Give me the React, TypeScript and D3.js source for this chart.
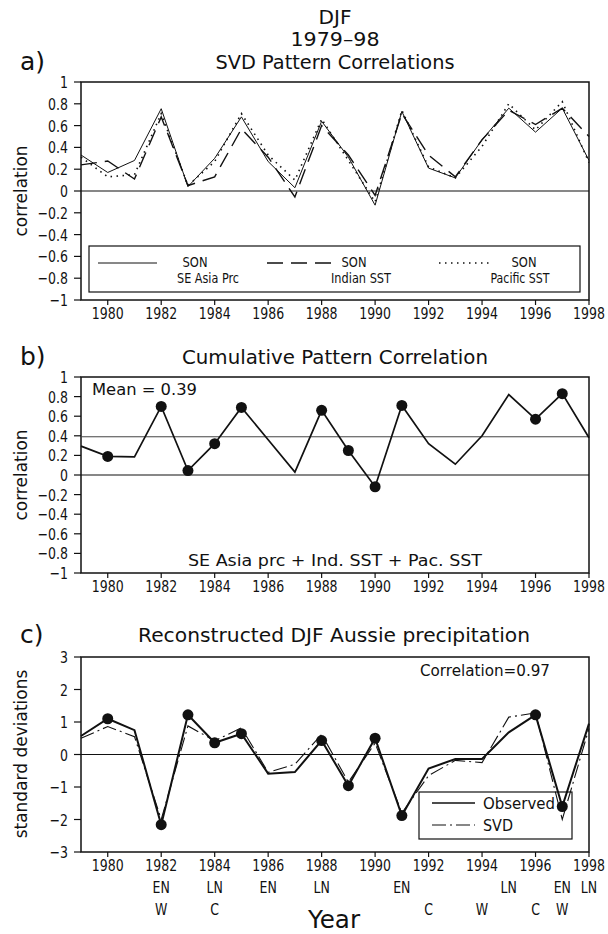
import React from 'react';
import * as d3 from 'd3';

const years = [1979, 1980, 1981, 1982, 1983, 1984, 1985, 1986, 1987, 1988, 1989, 1990, 1991, 1992, 1993, 1994, 1995, 1996, 1997, 1998];
const xTicks = [1980, 1982, 1984, 1986, 1988, 1990, 1992, 1994, 1996, 1998];

// Panel a: SVD pattern correlations
const seAsiaPrc = [0.33, 0.17, 0.28, 0.755, 0.04, 0.30, 0.68, 0.27, 0.03, 0.64, 0.31, -0.13, 0.73, 0.21, 0.12, 0.47, 0.76, 0.54, 0.76, 0.28];
const indianSST = [0.24, 0.275, 0.11, 0.68, 0.05, 0.13, 0.57, 0.31, -0.055, 0.60, 0.33, -0.04, 0.71, 0.33, 0.13, 0.47, 0.74, 0.61, 0.76, 0.50];
const pacificSST = [0.31, 0.13, 0.15, 0.71, 0.05, 0.27, 0.71, 0.33, 0.10, 0.66, 0.28, -0.10, 0.74, 0.22, 0.12, 0.41, 0.80, 0.56, 0.82, 0.26];

// Panel b: cumulative pattern correlation
const cumulative = [0.295, 0.19, 0.185, 0.70, 0.045, 0.32, 0.69, 0.36, 0.03, 0.66, 0.25, -0.12, 0.71, 0.32, 0.11, 0.40, 0.82, 0.57, 0.83, 0.38];
const meanCorr = 0.39;

// Panel c: reconstructed precipitation
const observed = [0.57, 1.1, 0.75, -2.16, 1.22, 0.36, 0.64, -0.59, -0.54, 0.43, -0.96, 0.5, -1.88, -0.43, -0.14, -0.14, 0.68, 1.22, -1.6, 0.95];
const svd = [0.5, 0.86, 0.55, -2.0, 0.88, 0.42, 0.82, -0.55, -0.3, 0.62, -0.85, 0.35, -1.8, -0.65, -0.18, -0.25, 1.15, 1.28, -2.0, 0.8];
const dotYears = [1980, 1982, 1983, 1984, 1985, 1988, 1989, 1990, 1991, 1996, 1997];

const corrTicks = [1, 0.8, 0.6, 0.4, 0.2, 0, -0.2, -0.4, -0.6, -0.8, -1];
const sdTicks = [3, 2, 1, 0, -1, -2, -3];

const ensoRow1 = [
  { year: 1982, label: 'EN' }, { year: 1984, label: 'LN' }, { year: 1986, label: 'EN' }, { year: 1988, label: 'LN' },
  { year: 1991, label: 'EN' }, { year: 1995, label: 'LN' }, { year: 1997, label: 'EN' }, { year: 1998, label: 'LN' },
];
const ensoRow2 = [
  { year: 1982, label: 'W' }, { year: 1984, label: 'C' }, { year: 1992, label: 'C' },
  { year: 1994, label: 'W' }, { year: 1996, label: 'C' }, { year: 1997, label: 'W' },
];

const FONT = '"DejaVu Sans ExtraLight", "DejaVu Sans", sans-serif';
const INK = '#111';

const x = d3.scaleLinear().domain([1979, 1998]).range([81, 589]);
const yA = d3.scaleLinear().domain([-1, 1]).range([300, 82]);
const yB = d3.scaleLinear().domain([-1, 1]).range([573, 377]);
const yC = d3.scaleLinear().domain([-3, 3]).range([852, 657]);

function fmt(v: number) {
  const s = d3.format('')(Math.round(v * 10) / 10);
  return s.replace('-', '\u2212');
}

function SText({ x, y, size = 16.5, sx = 0.76, anchor = 'middle', children }: any) {
  return (
    <text transform={`translate(${x},${y}) scale(${sx},1)`} fontSize={size} textAnchor={anchor} fill={INK} fontFamily={FONT}>
      {children}
    </text>
  );
}

function LText({ x, y, size = 18, anchor = 'middle', w, children, rotate }: any) {
  const props: any = {};
  if (w) { props.textLength = w; props.lengthAdjust = 'spacingAndGlyphs'; }
  return (
    <text x={rotate ? 0 : x} y={rotate ? 0 : y} transform={rotate ? `translate(${x},${y}) rotate(-90)` : undefined}
      fontSize={size} textAnchor={anchor} fill={INK} fontFamily={FONT} {...props}>
      {children}
    </text>
  );
}

function Frame({ y, ticks }: { y: d3.ScaleLinear<number, number>; ticks: number[] }) {
  const [y0, y1] = y.range();
  return (
    <g>
      <rect x={x(1979)} y={y1} width={x(1998) - x(1979)} height={y0 - y1} fill="none" stroke={INK} strokeWidth={1.5} />
      <line x1={x(1979)} x2={x(1998)} y1={y(0)} y2={y(0)} stroke={INK} strokeWidth={1.2} />
      {ticks.map((t) => (
        <g key={'y' + t}>
          <line x1={x(1979) - 7} x2={x(1979)} y1={y(t)} y2={y(t)} stroke={INK} strokeWidth={1.2} />
          <SText x={68} y={y(t) + 6} anchor="end">{fmt(t)}</SText>
        </g>
      ))}
      {xTicks.map((t) => (
        <g key={'x' + t}>
          <line x1={x(t)} x2={x(t)} y1={y0} y2={y0 + 5} stroke={INK} strokeWidth={1.2} />
          <SText x={x(t)} y={y0 + 19}>{String(t)}</SText>
        </g>
      ))}
    </g>
  );
}

export default function App() {
  const lineA = (vals: number[]) => d3.line<number>().x((_, i) => x(years[i])).y((v) => yA(v))(vals) || '';
  const lineB = d3.line<number>().x((_, i) => x(years[i])).y((v) => yB(v))(cumulative) || '';
  const lineC = (vals: number[]) => d3.line<number>().x((_, i) => x(years[i])).y((v) => yC(v))(vals) || '';

  return (
    <svg width={608} height={934} style={{ position: 'absolute', left: 0, top: 0, background: '#fff' }}>
      <rect x={0} y={0} width={608} height={934} fill="#fff" />

      {/* Header */}
      <LText x={335} y={24} size={19} w={33}>DJF</LText>
      <LText x={335} y={46} size={19} w={89}>1979–98</LText>
      <LText x={335} y={69} size={19} w={239}>SVD Pattern Correlations</LText>
      <LText x={20} y={70} size={25} anchor="start">a)</LText>

      {/* Panel a */}
      <Frame y={yA} ticks={corrTicks} />
      <LText x={27} y={191} size={17} rotate>correlation</LText>
      <path d={lineA(seAsiaPrc)} fill="none" stroke={INK} strokeWidth={1} />
      <path d={lineA(indianSST)} fill="none" stroke={INK} strokeWidth={1.4} strokeDasharray="16,8" />
      <path d={lineA(pacificSST)} fill="none" stroke={INK} strokeWidth={1.6} strokeDasharray="1.5,4.5" />
      <rect x={89} y={246} width={491} height={46} fill="#fff" stroke={INK} strokeWidth={1.2} />
      <line x1={98} x2={157} y1={263} y2={263} stroke={INK} strokeWidth={1} />
      <LText x={195} y={267} size={14} w={25}>SON</LText>
      <LText x={208} y={283} size={14} w={62}>SE Asia Prc</LText>
      <line x1={267} x2={334} y1={263} y2={263} stroke={INK} strokeWidth={1.4} strokeDasharray="16,8" />
      <LText x={354} y={267} size={14} w={25}>SON</LText>
      <LText x={361} y={283} size={14} w={60}>Indian SST</LText>
      <line x1={439} x2={493} y1={263} y2={263} stroke={INK} strokeWidth={1.6} strokeDasharray="1.5,4.5" />
      <LText x={524} y={267} size={14} w={25}>SON</LText>
      <LText x={520} y={283} size={14} w={59}>Pacific SST</LText>

      {/* Panel b */}
      <LText x={20} y={365} size={25} anchor="start">b)</LText>
      <LText x={335} y={364} size={19} w={306}>Cumulative Pattern Correlation</LText>
      <Frame y={yB} ticks={corrTicks} />
      <LText x={27} y={475} size={17} rotate>correlation</LText>
      <line x1={x(1979)} x2={x(1998)} y1={yB(meanCorr)} y2={yB(meanCorr)} stroke="#444" strokeWidth={1} />
      <path d={lineB} fill="none" stroke={INK} strokeWidth={1.7} />
      {dotYears.map((yr) => (
        <circle key={'b' + yr} cx={x(yr)} cy={yB(cumulative[years.indexOf(yr)])} r={5.5} fill={INK} />
      ))}
      <LText x={92} y={395} size={16} anchor="start" w={105}>Mean = 0.39</LText>
      <LText x={335} y={566} size={16} w={294}>SE Asia prc + Ind. SST + Pac. SST</LText>

      {/* Panel c */}
      <LText x={20} y={643} size={25} anchor="start">c)</LText>
      <LText x={334} y={642} size={19} w={392}>Reconstructed DJF Aussie precipitation</LText>
      <Frame y={yC} ticks={sdTicks} />
      <LText x={27} y={754} size={17} rotate>standard deviations</LText>
      <path d={lineC(svd)} fill="none" stroke={INK} strokeWidth={1.1} strokeDasharray="14,4,2,4" />
      <path d={lineC(observed)} fill="none" stroke={INK} strokeWidth={2} />
      {dotYears.map((yr) => (
        <circle key={'c' + yr} cx={x(yr)} cy={yC(observed[years.indexOf(yr)])} r={5.5} fill={INK} />
      ))}
      <LText x={420} y={676} size={16} anchor="start" w={130}>Correlation=0.97</LText>
      <rect x={419} y={792} width={153} height={47} fill="none" stroke={INK} strokeWidth={1.2} />
      <line x1={432} x2={475} y1={803} y2={803} stroke={INK} strokeWidth={1.5} />
      <LText x={483} y={809} size={16} anchor="start" w={72}>Observed</LText>
      <line x1={432} x2={475} y1={825} y2={825} stroke={INK} strokeWidth={1.1} strokeDasharray="14,4,2,4" />
      <LText x={483} y={831} size={16} anchor="start" w={30}>SVD</LText>

      {ensoRow1.map((d) => (
        <SText key={'e1' + d.year} x={x(d.year)} y={893}>{d.label}</SText>
      ))}
      {ensoRow2.map((d) => (
        <SText key={'e2' + d.year} x={x(d.year)} y={915}>{d.label}</SText>
      ))}
      <LText x={334} y={928} size={24} w={52}>Year</LText>
    </svg>
  );
}
